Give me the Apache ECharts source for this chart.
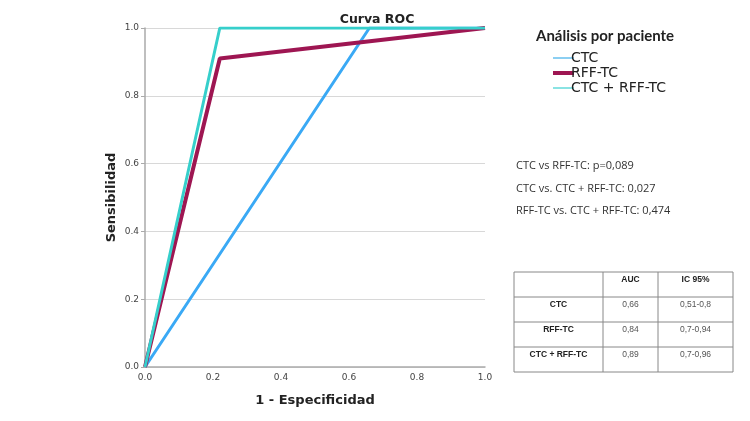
<!DOCTYPE html>
<html><head><meta charset="utf-8">
<script src="https://cdn.jsdelivr.net/npm/echarts@6/dist/echarts.min.js"></script>
<style>html,body{margin:0;padding:0;background:#fff}#c{width:750px;height:421px}</style>
</head><body><div id="c"></div>
<script>
const seriesNames = ['CTC', 'RFF-TC', 'CTC + RFF-TC'];
const fprCTC = [0, 0.66, 1];
const tprCTC = [0, 1, 1];
const fprRFF = [0, 0.22, 1];
const tprRFF = [0, 0.91, 1];
const fprBoth = [0, 0.22, 1];
const tprBoth = [0, 1, 1];
const xTicks = [0, 0.2, 0.4, 0.6, 0.8, 1.0];
const yTicks = [0, 0.2, 0.4, 0.6, 0.8, 1.0];
const comparisons = ['CTC vs RFF-TC: p=0,089', 'CTC vs. CTC + RFF-TC: 0,027', 'RFF-TC vs. CTC + RFF-TC: 0,474'];
const tableHeader = ['', 'AUC', 'IC 95%'];
const tableRows = [['CTC', '0,66', '0,51-0,8'], ['RFF-TC', '0,84', '0,7-0,94'], ['CTC + RFF-TC', '0,89', '0,7-0,96']];

const colors = ['#3aa9f5', '#9e1652', '#36cfcb'];
const widths = [3, 4, 3];
const zip = (a, b) => a.map((v, i) => [v, b[i]]);
const dataSets = [zip(fprCTC, tprCTC), zip(fprRFF, tprRFF), zip(fprBoth, tprBoth)];

const chart = echarts.init(document.getElementById('c'));
const font = 'DejaVu Sans';

// table graphics
const tX = [514, 603, 658, 733];
const tY = [272, 297, 322, 347, 372];
const g = [];
g.push({type:'rect', shape:{x:tX[0], y:tY[0], width:tX[3]-tX[0], height:tY[4]-tY[0]}, style:{fill:'#fff', stroke:'#888', lineWidth:1}});
for (let i = 1; i < 4; i++) g.push({type:'line', shape:{x1:tX[0], y1:tY[i], x2:tX[3], y2:tY[i]}, style:{stroke:'#888', lineWidth:1}});
for (let j = 1; j < 3; j++) g.push({type:'line', shape:{x1:tX[j], y1:tY[0], x2:tX[j], y2:tY[4]}, style:{stroke:'#888', lineWidth:1}});
const allRows = [tableHeader].concat(tableRows);
allRows.forEach((row, r) => {
  row.forEach((txt, c) => {
    if (!txt) return;
    const bold = r === 0 || c === 0;
    g.push({type:'text', x:(tX[c]+tX[c+1])/2, y:tY[r]+8, style:{text:txt, fill: bold ? '#222' : '#555', font:(bold?'bold ':'')+'8.5px "Liberation Sans"', textAlign:'center', textVerticalAlign:'middle'}});
  });
});
comparisons.forEach((t, i) => {
  g.push({type:'text', x:516, y:166+22.5*i, style:{text:t, fill:'#333', font:'11px "Open Sans"', textVerticalAlign:'middle'}});
});
g.push({type:'text', x:536, y:36, style:{text:'Análisis por paciente', fill:'#222', font:'bold 15px "Lato"', textVerticalAlign:'middle'}});

chart.setOption({
  animation: false,
  title: {text:'Curva ROC', left:372, top:8, textAlign:'center', textStyle:{fontFamily:font, fontSize:12.5, fontWeight:'bold', color:'#222'}},
  legend: {
    orient:'vertical', left:548, top:46, itemGap:1, itemWidth:21, itemHeight:14,
    textStyle:{fontFamily:font, fontSize:14, color:'#222', padding:[0,0,0,-8]},
    data:[
      {name:seriesNames[0], icon:'path://M0,6L21,6L21,8L0,8Z', itemStyle:{color:'#8ccff2'}},
      {name:seriesNames[1], icon:'path://M0,5L21,5L21,9L0,9Z', itemStyle:{color:colors[1]}},
      {name:seriesNames[2], icon:'path://M0,6L21,6L21,8L0,8Z', itemStyle:{color:'#8ae3e3'}}
    ]
  },
  grid: {left:145, right:265, top:28, bottom:54},
  xAxis: {
    type:'value', min:0, max:1, interval:0.2,
    name:'1 - Especificidad', nameLocation:'middle', nameGap:27,
    nameTextStyle:{fontFamily:font, fontSize:13, fontWeight:'bold', color:'#222'},
    axisLine:{lineStyle:{color:'#aaa', width:1.5}},
    axisTick:{show:false},
    axisLabel:{fontFamily:font, fontSize:9, color:'#444', margin:6, formatter:v => v.toFixed(1), customValues: xTicks},
    splitLine:{show:false}
  },
  yAxis: {
    type:'value', min:0, max:1, interval:0.2,
    name:'Sensibilidad', nameLocation:'middle', nameGap:27,
    nameTextStyle:{fontFamily:font, fontSize:13, fontWeight:'bold', color:'#222'},
    axisLine:{show:true, lineStyle:{color:'#aaa', width:1.5}},
    axisTick:{show:true, length:4, lineStyle:{color:'#aaa'}},
    axisLabel:{fontFamily:font, fontSize:9, color:'#444', margin:6, formatter:v => v.toFixed(1), customValues: yTicks},
    splitLine:{show:true, lineStyle:{color:'#d8d8d8', width:1}}
  },
  series: dataSets.map((d, i) => ({
    name: seriesNames[i], type:'line', data:d, showSymbol:false, symbol:'none',
    lineStyle:{color:colors[i], width:widths[i]}, itemStyle:{color:colors[i]}, z: 2+i
  })),
  graphic: g
});
</script></body></html>
